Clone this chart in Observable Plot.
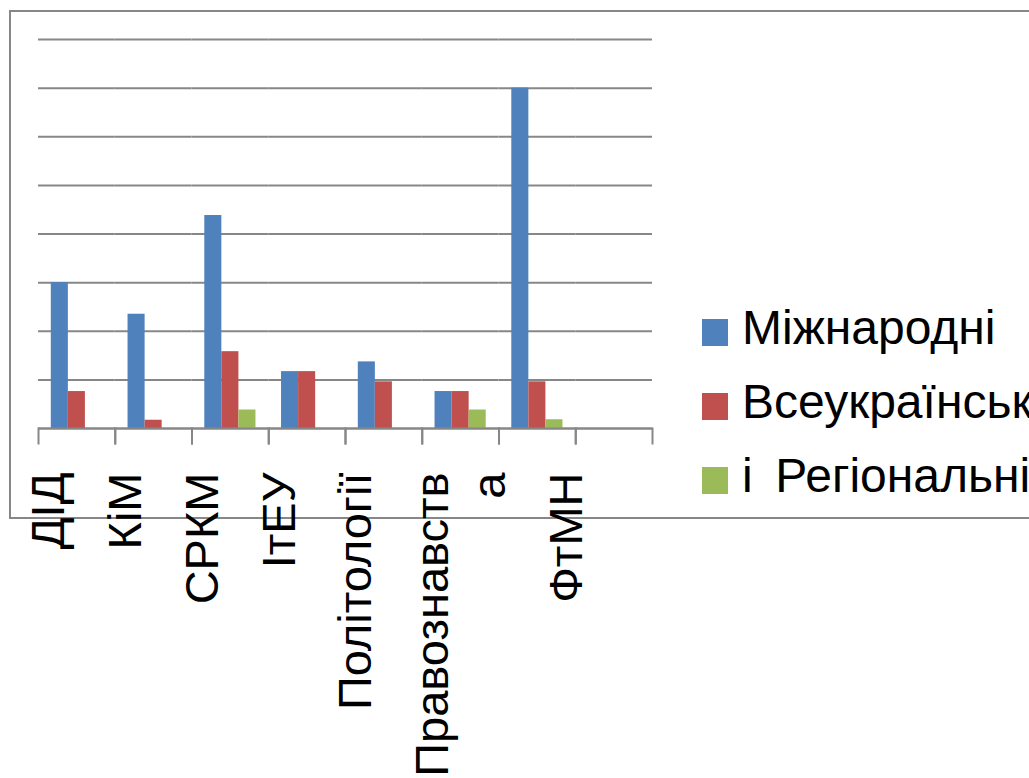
<!DOCTYPE html>
<html>
<head>
<meta charset="utf-8">
<script src="https://cdn.jsdelivr.net/npm/d3@7"></script>
<script src="https://cdn.jsdelivr.net/npm/@observablehq/plot@0.6"></script>
<style>
  html, body { margin: 0; padding: 0; background: #fff; overflow: hidden; width: 1029px; height: 778px; }
  #wrap { position: relative; width: 1029px; height: 778px; overflow: hidden; font-family: "Liberation Sans", Arial, sans-serif; }
  #border { position: absolute; left: 9px; top: 10px; width: 1100px; height: 505px; border: 2px solid #878787; }
  #chart { position: absolute; left: 0; top: 0; }
  .sw { position: absolute; width: 26px; height: 27px; }
  .lt { position: absolute; white-space: pre; word-spacing: -2px; font-size: 48px; line-height: 48px; color: #000; }
</style>
</head>
<body>
<div id="wrap">
  <div id="border"></div>
  <div id="chart"></div>
  <div id="legend"></div>
</div>
<script>
// Categories (facet keys) and their printed tick labels
const categories = ["ДІД", "КіМ", "СРКМ", "ІтЕУ", "Політології", "Правознавства", "ФтМН", ""];
const tickLabels = ["ДІД", "КіМ", "СРКМ", "ІтЕУ", "Політології", "Правознавств\nа", "\nФтМН", ""];

// Series
const series = ["Міжнародні", "Всеукраїнські", "і  Регіональні"];
const colors = ["#4F81BD", "#C0504D", "#9BBB59"];

// Values (in gridline units)
const intl = [3.0, 2.35, 4.38, 1.17, 1.37, 0.76, 7.0, 0];
const nat  = [0.76, 0.17, 1.58, 1.17, 0.96, 0.76, 0.96, 0];
const reg  = [0, 0, 0.38, 0, 0, 0.38, 0.18, 0];

// Gridline values
const gridValues = [0, 1, 2, 3, 4, 5, 6, 7, 8];

const valueLists = [intl, nat, reg];
const rows = categories.flatMap((c, i) =>
  series.map((s, k) => ({cat: c, series: s, value: valueLists[k][i]}))
);
const labelRows = categories.map((c, i) => ({cat: c, label: tickLabels[i]}));

const gray = "#878787";

const chart = Plot.plot({
  width: 1029,
  height: 778,
  marginLeft: 38,
  marginRight: 377,
  marginTop: 39,
  marginBottom: 350,
  style: {background: "transparent", fontFamily: "'Liberation Sans', Arial, sans-serif", overflow: "visible"},
  fx: {domain: categories, padding: 0, round: false, axis: null},
  x: {domain: series, paddingInner: 0, paddingOuter: 0.75, round: false, axis: null},
  y: {domain: [0, 8], axis: null},
  color: {domain: series, range: colors},
  marks: [
    Plot.ruleY(gridValues, {stroke: gray, strokeWidth: 2}),
    Plot.frame({anchor: "left", insetTop: 389, insetBottom: -15, stroke: gray, strokeWidth: 2}),
    Plot.frame({anchor: "right", insetTop: 389, insetBottom: -15, stroke: gray, strokeWidth: 2}),
    Plot.barY(rows, {fx: "cat", x: "series", y: "value", fill: "series", inset: 0}),
    Plot.ruleY([0], {stroke: gray, strokeWidth: 2}),
    Plot.text(labelRows, {
      fx: "cat", text: "label", frameAnchor: "bottom",
      rotate: -90, textAnchor: "end", lineAnchor: "top", lineHeight: 1.21,
      fontSize: 47, dy: 44, dx: -53, fill: "#000"
    })
  ]
});
document.getElementById("chart").appendChild(chart);

// Legend built from the series arrays
const legend = document.getElementById("legend");
series.forEach((s, k) => {
  const sw = document.createElement("div");
  sw.className = "sw";
  sw.style.left = "702px";
  sw.style.top = (319 + 74 * k) + "px";
  sw.style.background = colors[k];
  legend.appendChild(sw);
  const t = document.createElement("div");
  t.className = "lt";
  t.style.left = "742px";
  t.style.top = (304 + 74 * k) + "px";
  t.textContent = s;
  legend.appendChild(t);
});
</script>
</body>
</html>
